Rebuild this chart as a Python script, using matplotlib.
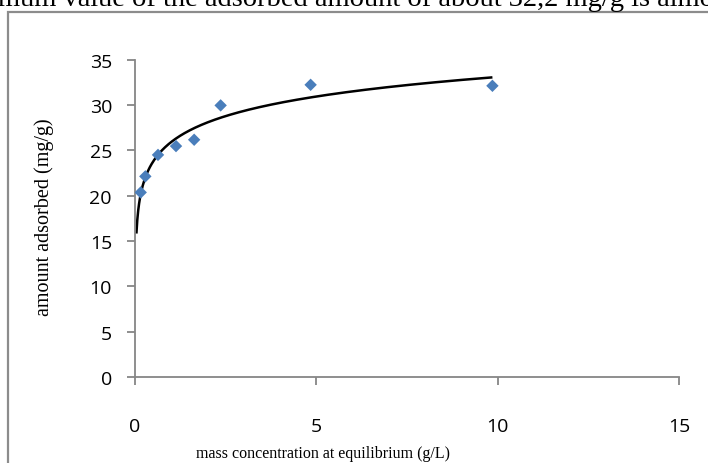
import numpy as np
import matplotlib
matplotlib.use("Agg")
import matplotlib.pyplot as plt
from matplotlib.patches import Rectangle

# Data
conc = [0.157, 0.285, 0.634, 1.13, 1.63, 2.36, 4.84, 9.85]
adsorbed = [20.36, 22.13, 24.5, 25.47, 26.17, 29.96, 32.23, 32.12]
trend_start = 0.039
x_ticks = [0, 5, 10, 15]
y_ticks = [0, 5, 10, 15, 20, 25, 30, 35]
xlabel = "mass concentration at equilibrium (g/L)"
ylabel = "amount adsorbed (mg/g)"
top_text = "mum value of the adsorbed amount of about 32,2 mg/g is almost"

W, H = 708, 464
fig = plt.figure(figsize=(W / 100, H / 100), dpi=100)

def fx(px):
    return px / W

def fy(py):
    return 1 - py / H

# Axes box from pixel extents
x0, x1 = 135, 679.3
y_top, y_bot = 60.7, 378
ax = fig.add_axes([fx(x0), fy(y_bot), fx(x1) - fx(x0), fy(y_top) - fy(y_bot)])

# Logarithmic trendline fitted to the data
a, b = np.polyfit(np.log(conc), adsorbed, 1)
xt = np.linspace(trend_start, max(conc), 400)
ax.plot(xt, a * np.log(xt) + b, color="black", lw=1.8, zorder=2, solid_capstyle="butt")
ax.scatter(conc, adsorbed, marker="D", s=40, color="#4a7ebb", edgecolors="none", zorder=3)

ax.set_xlim(0, 15)
ax.set_ylim(0, 35)
ax.set_xticks(x_ticks)
ax.set_yticks(y_ticks)
ax.set_xticklabels([str(v) for v in x_ticks])
ax.set_yticklabels([str(v) for v in y_ticks])

for s in ["top", "right"]:
    ax.spines[s].set_visible(False)
for s in ["left", "bottom"]:
    ax.spines[s].set_color("#868686")
    ax.spines[s].set_linewidth(1.3)

ax.tick_params(axis="both", direction="out", length=5.6, width=1.3, color="#868686",
               labelsize=14)
ax.tick_params(axis="y", pad=11)
ax.tick_params(axis="x", pad=23)
for lab in ax.get_xticklabels() + ax.get_yticklabels():
    lab.set_fontfamily("Open Sans")

fig.text(fx(323), fy(454), xlabel, ha="center", va="center",
         fontfamily="Liberation Serif", fontsize=11.5)
fig.text(fx(44), fy(217), ylabel, ha="center", va="center", rotation=90,
         fontfamily="Liberation Serif", fontsize=14.5)

# Document context: cut-off text line and chart frame
fig.text(fx(-2), fy(6.5), top_text, ha="left", va="baseline",
         fontfamily="Liberation Serif", fontsize=20.5)
fig.patches.append(Rectangle((fx(8), fy(470)), fx(720) - fx(8), fy(13) - fy(470),
                             transform=fig.transFigure, fill=False,
                             edgecolor="#8c8c8c", lw=1.6))

fig.savefig("out.png", dpi=100)
